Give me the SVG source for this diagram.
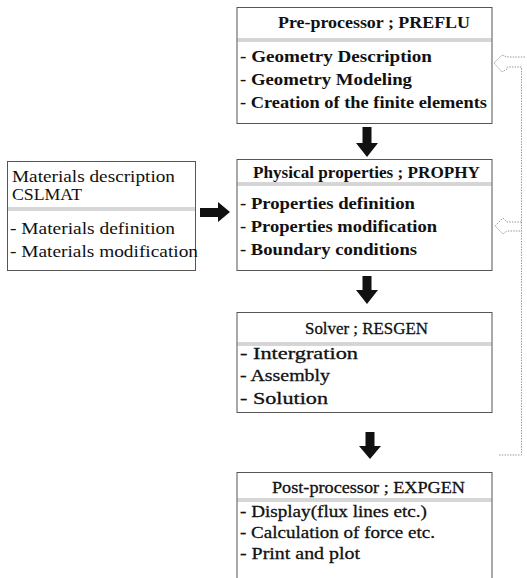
<svg xmlns="http://www.w3.org/2000/svg" width="527" height="578" viewBox="0 0 527 578">
<defs>
<style>
.box{fill:#fff;stroke:#555;stroke-width:1}
.sep{stroke:#777;stroke-width:0.6;fill:none}
.t{font-family:"Liberation Serif","Times New Roman",serif;font-size:17px;fill:#111}
.b{font-weight:bold}
.m{stroke:#111;stroke-width:0.3}
.blk{fill:#111}
.fb{fill:none;stroke:#999;stroke-width:1;stroke-dasharray:1.5 1.2}
</style>
</defs>
<rect width="527" height="578" fill="#fff"/>

<g id="preflu">
<rect class="box" x="237" y="7.5" width="255" height="116"/>
<line class="sep" x1="237" y1="39" x2="492" y2="39"/>
<line class="sep" x1="237" y1="41" x2="492" y2="41"/>
<text class="t b" x="278" y="28" textLength="192" lengthAdjust="spacingAndGlyphs">Pre-processor ; PREFLU</text>
<text class="t b" x="240" y="62" textLength="192" lengthAdjust="spacingAndGlyphs">- Geometry  Description</text>
<text class="t b" x="240" y="85" textLength="172" lengthAdjust="spacingAndGlyphs">- Geometry Modeling</text>
<text class="t b" x="240" y="108" textLength="247" lengthAdjust="spacingAndGlyphs">- Creation of the finite elements</text>
</g>

<g id="prophy">
<rect class="box" x="237" y="159.5" width="255" height="111"/>
<line class="sep" x1="237" y1="183" x2="492" y2="183"/>
<line class="sep" x1="237" y1="185" x2="492" y2="185"/>
<text class="t b" x="253" y="178" textLength="227" lengthAdjust="spacingAndGlyphs">Physical properties ; PROPHY</text>
<text class="t b" x="240" y="209" textLength="175" lengthAdjust="spacingAndGlyphs">- Properties definition</text>
<text class="t b" x="240" y="232" textLength="197" lengthAdjust="spacingAndGlyphs">- Properties modification</text>
<text class="t b" x="240" y="255" textLength="177" lengthAdjust="spacingAndGlyphs">- Boundary conditions</text>
</g>

<g id="resgen">
<rect class="box" x="237" y="312.5" width="255" height="100"/>
<line class="sep" x1="237" y1="343" x2="492" y2="343"/>
<line class="sep" x1="237" y1="345" x2="492" y2="345"/>
<text class="t m" x="305" y="334" textLength="123" lengthAdjust="spacingAndGlyphs">Solver ; RESGEN</text>
<text class="t m" x="240" y="359" textLength="118" lengthAdjust="spacingAndGlyphs">- Intergration</text>
<text class="t m" x="240" y="381" textLength="90" lengthAdjust="spacingAndGlyphs">- Assembly</text>
<text class="t m" x="240" y="404" textLength="88" lengthAdjust="spacingAndGlyphs">- Solution</text>
</g>

<g id="expgen">
<rect class="box" x="237" y="472.5" width="255" height="110"/>
<line class="sep" x1="237" y1="499" x2="492" y2="499"/>
<line class="sep" x1="237" y1="501" x2="492" y2="501"/>
<text class="t m" x="272" y="493" textLength="193" lengthAdjust="spacingAndGlyphs">Post-processor ; EXPGEN</text>
<text class="t m" x="240" y="517" textLength="187" lengthAdjust="spacingAndGlyphs">- Display(flux lines etc.)</text>
<text class="t m" x="240" y="538" textLength="195" lengthAdjust="spacingAndGlyphs">- Calculation of force  etc.</text>
<text class="t m" x="240" y="559" textLength="120" lengthAdjust="spacingAndGlyphs">- Print and plot</text>
</g>

<g id="cslmat">
<rect class="box" x="7.5" y="161.5" width="188" height="109"/>
<line class="sep" x1="7.5" y1="208" x2="195.5" y2="208"/>
<line class="sep" x1="7.5" y1="210" x2="195.5" y2="210"/>
<text class="t" x="12" y="182" textLength="163" lengthAdjust="spacingAndGlyphs">Materials description</text>
<text class="t" x="12" y="200" textLength="70" lengthAdjust="spacingAndGlyphs">CSLMAT</text>
<text class="t" x="10" y="234" textLength="165" lengthAdjust="spacingAndGlyphs">- Materials definition</text>
<text class="t" x="10" y="257" textLength="188" lengthAdjust="spacingAndGlyphs">- Materials modification</text>
</g>

<g id="connectors">
<polygon class="blk" points="362.5,127 371.5,127 371.5,143 378,143 367,157 356,143 362.5,143"/>
<polygon class="blk" points="362.5,276 371.5,276 371.5,290 378,290 367,304 356,290 362.5,290"/>
<polygon class="blk" points="365.5,432 374.5,432 374.5,446 381,446 370,459 359,446 365.5,446"/>
<polygon class="blk" points="200,208 218,208 218,202 230,212 218,222 218,217 200,217"/>
<path class="fb" d="M525,57 L507,57 L502,55 L494,63 L502,72 L507,69 L507,67 L521.5,67 L521.5,455 L498,455"/>
<path class="fb" d="M521.5,222 L507,222 L503,218 L495,226 L503,234 L507,231 L521.5,231"/>
</g>
</svg>
